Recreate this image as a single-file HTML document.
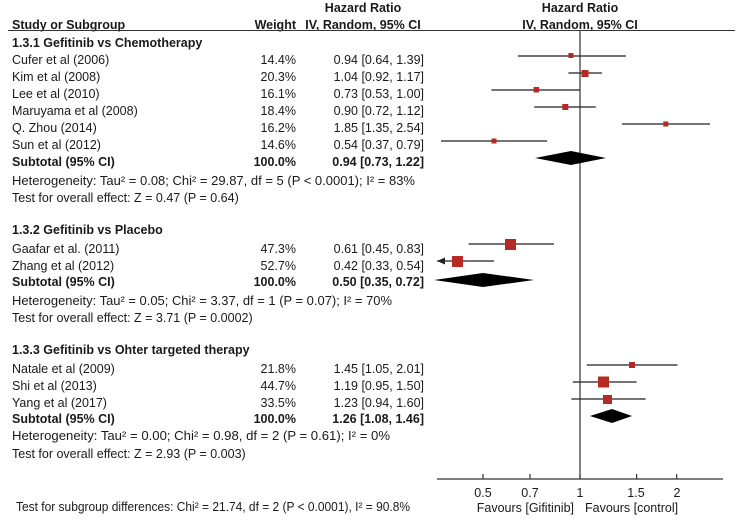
<!DOCTYPE html>
<html><head><meta charset="utf-8"><style>
html,body{margin:0;padding:0;background:#fff;}
svg{display:block;font-family:"Liberation Sans",Arial,sans-serif;font-size:12.5px;fill:#1a1a1a;}
.b{font-weight:bold;}
</style></head><body>
<svg width="738" height="520" viewBox="0 0 738 520" xmlns="http://www.w3.org/2000/svg">
<!-- headers -->
<text x="363" y="12" text-anchor="middle" class="b">Hazard Ratio</text>
<text x="580" y="12" text-anchor="middle" class="b">Hazard Ratio</text>
<text x="12" y="29" class="b">Study or Subgroup</text>
<text x="296" y="29" text-anchor="end" class="b">Weight</text>
<text x="363" y="29" text-anchor="middle" class="b">IV, Random, 95% CI</text>
<text x="580" y="29" text-anchor="middle" class="b">IV, Random, 95% CI</text>
<line x1="8" y1="30.5" x2="735" y2="30.5" stroke="#333" stroke-width="1"/>
<!-- vertical line -->
<line x1="580" y1="30" x2="580" y2="479" stroke="#333" stroke-width="1.2"/>

<g>
<text x="12" y="47" class="b">1.3.1 Gefitinib vs Chemotherapy</text>
<text x="12" y="64">Cufer et al (2006)</text><text x="296" y="64" text-anchor="end">14.4%</text><text x="424" y="64" text-anchor="end">0.94 [0.64, 1.39]</text>
<text x="12" y="81">Kim et al (2008)</text><text x="296" y="81" text-anchor="end">20.3%</text><text x="424" y="81" text-anchor="end">1.04 [0.92, 1.17]</text>
<text x="12" y="98">Lee et al (2010)</text><text x="296" y="98" text-anchor="end">16.1%</text><text x="424" y="98" text-anchor="end">0.73 [0.53, 1.00]</text>
<text x="12" y="115">Maruyama et al (2008)</text><text x="296" y="115" text-anchor="end">18.4%</text><text x="424" y="115" text-anchor="end">0.90 [0.72, 1.12]</text>
<text x="12" y="132">Q. Zhou (2014)</text><text x="296" y="132" text-anchor="end">16.2%</text><text x="424" y="132" text-anchor="end">1.85 [1.35, 2.54]</text>
<text x="12" y="149">Sun et al (2012)</text><text x="296" y="149" text-anchor="end">14.6%</text><text x="424" y="149" text-anchor="end">0.54 [0.37, 0.79]</text>
<text x="12" y="166" class="b">Subtotal (95% CI)</text><text x="296" y="166" text-anchor="end" class="b">100.0%</text><text x="424" y="166" text-anchor="end" class="b">0.94 [0.73, 1.22]</text>
<text x="12" y="185" textLength="403" lengthAdjust="spacingAndGlyphs">Heterogeneity: Tau² = 0.08; Chi² = 29.87, df = 5 (P &lt; 0.0001); I² = 83%</text>
<text x="12" y="202">Test for overall effect: Z = 0.47 (P = 0.64)</text>

<text x="12" y="234" class="b">1.3.2 Gefitinib vs Placebo</text>
<text x="12" y="253">Gaafar et al. (2011)</text><text x="296" y="253" text-anchor="end">47.3%</text><text x="424" y="253" text-anchor="end">0.61 [0.45, 0.83]</text>
<text x="12" y="270">Zhang et al (2012)</text><text x="296" y="270" text-anchor="end">52.7%</text><text x="424" y="270" text-anchor="end">0.42 [0.33, 0.54]</text>
<text x="12" y="286" class="b">Subtotal (95% CI)</text><text x="296" y="286" text-anchor="end" class="b">100.0%</text><text x="424" y="286" text-anchor="end" class="b">0.50 [0.35, 0.72]</text>
<text x="12" y="305" textLength="380" lengthAdjust="spacingAndGlyphs">Heterogeneity: Tau² = 0.05; Chi² = 3.37, df = 1 (P = 0.07); I² = 70%</text>
<text x="12" y="322">Test for overall effect: Z = 3.71 (P = 0.0002)</text>

<text x="12" y="354" class="b">1.3.3 Gefitinib vs Ohter targeted therapy</text>
<text x="12" y="373">Natale et al (2009)</text><text x="296" y="373" text-anchor="end">21.8%</text><text x="424" y="373" text-anchor="end">1.45 [1.05, 2.01]</text>
<text x="12" y="390">Shi et al (2013)</text><text x="296" y="390" text-anchor="end">44.7%</text><text x="424" y="390" text-anchor="end">1.19 [0.95, 1.50]</text>
<text x="12" y="407">Yang et al (2017)</text><text x="296" y="407" text-anchor="end">33.5%</text><text x="424" y="407" text-anchor="end">1.23 [0.94, 1.60]</text>
<text x="12" y="423" class="b">Subtotal (95% CI)</text><text x="296" y="423" text-anchor="end" class="b">100.0%</text><text x="424" y="423" text-anchor="end" class="b">1.26 [1.08, 1.46]</text>
<text x="12" y="440" textLength="378" lengthAdjust="spacingAndGlyphs">Heterogeneity: Tau² = 0.00; Chi² = 0.98, df = 2 (P = 0.61); I² = 0%</text>
<text x="12" y="458">Test for overall effect: Z = 2.93 (P = 0.003)</text>

<text x="16" y="511" textLength="394" lengthAdjust="spacingAndGlyphs">Test for subgroup differences: Chi² = 21.74, df = 2 (P &lt; 0.0001), I² = 90.8%</text>
</g>

<!-- plot: x = 580 + 139.5*ln(v) -->
<g stroke="#222" stroke-width="1.2">
<line x1="517.8" y1="56" x2="625.9" y2="56"/>
<line x1="568.4" y1="73" x2="601.9" y2="73"/>
<line x1="491.4" y1="90" x2="580" y2="90"/>
<line x1="534.2" y1="107" x2="595.8" y2="107"/>
<line x1="621.9" y1="124" x2="710" y2="124"/>
<line x1="441" y1="141" x2="547.1" y2="141"/>
<line x1="468.6" y1="244" x2="554" y2="244"/>
<line x1="437" y1="261" x2="494" y2="261"/>
<line x1="586.8" y1="365" x2="677.4" y2="365"/>
<line x1="572.8" y1="382" x2="636.6" y2="382"/>
<line x1="571.4" y1="399" x2="645.6" y2="399"/>
</g>
<polygon points="437,261 445,257.5 445,264.5" fill="#222"/>
<g fill="#b52a22">
<rect x="568.4" y="53" width="5" height="5"/>
<rect x="581.5" y="70" width="7" height="7"/>
<rect x="533.6" y="87" width="5.5" height="5.5"/>
<rect x="562.3" y="104" width="6" height="6"/>
<rect x="663.3" y="121.5" width="5" height="5"/>
<rect x="491.5" y="138.5" width="5" height="5"/>
<rect x="505" y="239" width="11" height="11"/>
<rect x="452" y="256" width="11" height="11"/>
<rect x="629" y="362" width="6" height="6"/>
<rect x="598" y="376.5" width="11" height="11"/>
<rect x="603" y="395" width="9" height="9"/>
</g>
<g fill="#000">
<polygon points="535,158 571,151 606,158 571,165"/>
<polygon points="434,280 483,273 534,280 483,287"/>
<polygon points="590,416 612,409 632,416 612,423"/>
</g>
<!-- axis -->
<line x1="437" y1="479" x2="723" y2="479" stroke="#333" stroke-width="1.2"/>
<g stroke="#333" stroke-width="1.2">
<line x1="483" y1="474" x2="483" y2="479"/>
<line x1="530" y1="474" x2="530" y2="479"/>
<line x1="580" y1="474" x2="580" y2="479"/>
<line x1="636.6" y1="474" x2="636.6" y2="479"/>
<line x1="676.7" y1="474" x2="676.7" y2="479"/>
</g>
<g text-anchor="middle">
<text x="483" y="497">0.5</text>
<text x="530" y="497">0.7</text>
<text x="580" y="497">1</text>
<text x="636" y="497">1.5</text>
<text x="677" y="497">2</text>
</g>
<text x="574" y="512" text-anchor="end">Favours [Gifitinib]</text>
<text x="585" y="512">Favours [control]</text>
</svg>
</body></html>
